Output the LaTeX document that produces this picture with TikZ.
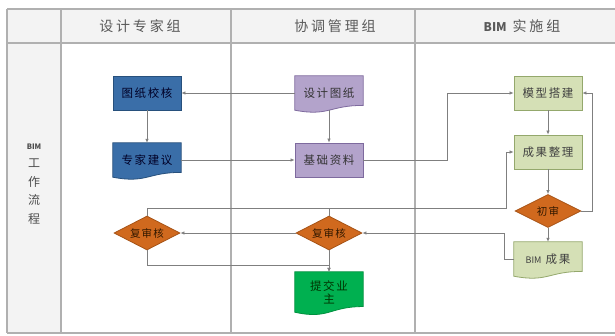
\documentclass[tikz,border=0pt]{standalone}
\usepackage{fontspec}
\setmainfont{Noto Sans CJK SC}
\usetikzlibrary{shapes.geometric,arrows.meta,backgrounds,calc}

\definecolor{gridgray}{HTML}{B0B0B0}
\definecolor{headfill}{HTML}{F3F3F3}
\definecolor{flowgray}{HTML}{7F7F7F}
\definecolor{bluefill}{HTML}{3A6EA8}
\definecolor{blueline}{HTML}{27507C}
\definecolor{purplefill}{HTML}{B3A3CB}
\definecolor{purpleline}{HTML}{7E6A9E}
\definecolor{greenfill}{HTML}{D5E0B6}
\definecolor{greenline}{HTML}{94A86C}
\definecolor{orangefill}{HTML}{D0691E}
\definecolor{orangeline}{HTML}{A65316}
\definecolor{okfill}{HTML}{00B050}
\definecolor{okline}{HTML}{00913F}

\tikzset{
  headtext/.style={font=\fontsize{14}{16}\selectfont\addfontfeature{LetterSpace=20}, text=black!65},
  box/.style={draw, line width=0.8pt, minimum width=68pt, minimum height=34pt,
    inner sep=1pt, font=\fontsize{11.5}{13}\selectfont\addfontfeature{LetterSpace=14}},
  docbox/.style={minimum width=68pt, minimum height=34pt, inner sep=1pt,
    font=\fontsize{11.5}{13}\selectfont\addfontfeature{LetterSpace=14}},
  check/.style={shape=diamond, aspect=2, draw, line width=0.8pt, fill=orangefill,
    draw=orangeline, inner sep=0pt, minimum width=66pt, minimum height=34pt,
    text=black!80!orange, font=\fontsize{10.5}{12}\selectfont\addfontfeature{LetterSpace=10}},
  flow/.style={draw=flowgray, line width=0.7pt, -{Latex[length=4pt,width=3.5pt]}},
  link/.style={draw=flowgray, line width=0.7pt},
}

% latin letters set tight inside spaced text
\newcommand\tightbim[1]{{\fontsize{#1}{#1}\selectfont\addfontfeature{LetterSpace=0}BIM}}

% document shape with a wavy bottom, drawn behind node #1
\newcommand\docshape[3]{%
  \begin{pgfonlayer}{background}
  \path[fill=#2, draw=#3, line width=0.8pt]
    let \p1=(#1.north west), \p2=(#1.south east), \n1={\y1-\y2} in
    (\x1,\y1) -- (\x2,\y1) -- ({\x2},{\y1-0.86*\n1})
    .. controls ({(\x1+\x2)/2},{\y1-0.86*\n1}) and ({(\x1+\x2)/2},{\y1-1.187*\n1})
    .. ({\x1},{\y1-1.0*\n1}) -- cycle;
  \end{pgfonlayer}}

\begin{document}
\begin{tikzpicture}[x=1pt, y=-1pt]
  \useasboundingbox (0,0) rectangle (615,335);

  % Swim lane table
  % ---------------------
  \fill[headfill] (7,9) rectangle (615,43);
  \fill[headfill] (7,43) rectangle (61,333);
  \draw[gridgray, line width=1.4pt] (7,9) -- (615,9);
  \draw[gridgray, line width=1.8pt] (7,43) -- (615,43);
  \draw[gridgray, line width=1.4pt] (7,333) -- (615,333);
  \draw[gridgray, line width=1.4pt] (7,9) -- (7,333);
  \draw[gridgray, line width=1.6pt] (61,9) -- (61,333);
  \draw[gridgray, line width=1.6pt] (231,9) -- (231,333);
  \draw[gridgray, line width=1.6pt] (415,9) -- (415,333);

  \node[headtext] (lane1) at (140,26) {设计专家组};
  \node[headtext] (lane2) at (335,26) {协调管理组};
  \node[headtext] (lane3) at (522,26) {{\bfseries\tightbim{12}}\ 实施组};
  \node[align=center, text=black!70, font=\fontsize{12}{18.5}\selectfont] (rowname) at (34,184)
    {{\bfseries\fontsize{7.5}{9}\selectfont BIM}\\工\\作\\流\\程};

  % Design experts
  % ---------------------
  \node[box, fill=bluefill, draw=blueline, text=black!85!blue] (tzjh) at (147,93) {图纸校核};
  \node[docbox, text=black!85!blue] (zjjy) at (147,160) {专家建议};
  \docshape{zjjy}{bluefill}{blueline}
  \node[check] (fsh1) at (147,233) {复审核};

  % Coordination
  % ---------------------
  \node[docbox, text=black!80] (sjtz) at (329,93) {设计图纸};
  \docshape{sjtz}{purplefill}{purpleline}
  \node[box, fill=purplefill, draw=purpleline, text=black!80] (jczl) at (329,160) {基础资料};
  \node[check] (fsh2) at (329,233) {复审核};
  \node[docbox, minimum height=40pt, align=center, text=black!80!green] (tjyz) at (329,292) {提交业\\主};
  \docshape{tjyz}{okfill}{okline}

  % BIM team
  % ---------------------
  \node[box, fill=greenfill, draw=greenline, text=black!75] (mxdj) at (548,93) {模型搭建};
  \node[box, fill=greenfill, draw=greenline, text=black!75] (cgzl) at (548,152) {成果整理};
  \node[check, minimum height=33pt] (cs) at (548,211) {初审};
  \node[docbox, text=black!75] (bimcg) at (548,259) {\tightbim{9}\ 成果};
  \docshape{bimcg}{greenfill}{greenline}
  \coordinate (back) at (506,208);

  % Connectors
  % ---------------------
  \draw[flow] (sjtz.west) -- (tzjh.east);
  \draw[flow] (tzjh.south) -- (zjjy.north);
  \draw[flow] (sjtz.south) -- (jczl.north);
  \draw[flow] (zjjy.east) -- (jczl.west);
  \draw[flow] (jczl.east) -- ++(84,0) |- (mxdj.west);
  \draw[flow] (mxdj.south) -- (cgzl.north);
  \draw[flow] (cgzl.south) -- (cs.north);
  \draw[flow] (cs.south) -- (bimcg.north);
  \draw[flow] (cs.east) -- ++(11,0) |- (mxdj.east);
  \draw[flow] (bimcg.west) -- ++(-9,0) |- (fsh2.east);
  \draw[flow] (fsh2.west) -- (fsh1.east);
  \draw[flow] (fsh1.north) |- (back) |- (cgzl.west);
  \draw[link] (fsh2.north) -- (fsh2.north |- back);
  \draw[flow] (fsh1.south) -- ++(0,15) -| (tjyz.north);
  \draw[flow] (fsh2.south) -- (tjyz.north);
\end{tikzpicture}
\end{document}
